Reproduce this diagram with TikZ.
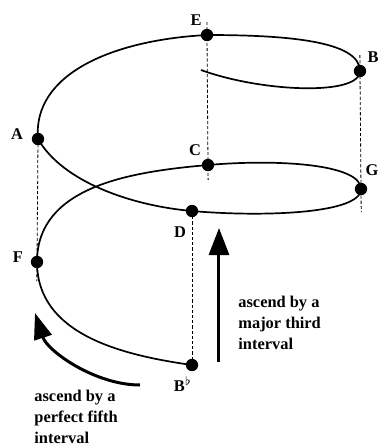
\documentclass[tikz,border=0pt]{standalone}
\usepackage{fontspec}
\setmainfont{Liberation Serif}
\usetikzlibrary{arrows.meta}

\begin{document}
\begin{tikzpicture}[
  x=0.5pt, y=0.5pt,
  every node/.style={font=\bfseries\fontsize{8.2}{10.5}\selectfont},
  tone/.style={circle, fill, inner sep=0pt, minimum size=6.2pt},
  spiral/.style={draw, line width=0.85pt},
  guide/.style={draw, line width=0.4pt, dash pattern=on 1.6pt off 1pt},
  bigarrow/.style={draw, line width=1.5pt, -{Triangle[width=10pt, length=13.5pt]}},
  remark/.style={align=left, anchor=north west, inner sep=0pt}
]
\useasboundingbox (0,0) rectangle (380,-446);

% tones on the spiral
\node[tone] (bflat) at (192,-365) {};
\node[tone] (f) at (37,-262) {};
\node[tone] (c) at (208,-165) {};
\node[tone] (g) at (361,-189) {};
\node[tone] (d) at (192,-211) {};
\node[tone] (a) at (38,-139) {};
\node[tone] (e) at (207,-35) {};
\node[tone] (b) at (360,-71) {};
\coordinate (tail) at (201,-70);

% note names
\node (bflat label) at (183,-384) {B$^{\flat}$};
\node (f label) at (18,-257) {F};
\node (c label) at (195,-150) {C};
\node (g label) at (372,-170) {G};
\node (d label) at (180,-232) {D};
\node (a label) at (17,-134) {A};
\node (e label) at (196,-20) {E};
\node (b label) at (373,-57) {B};

% the spiral
\draw[spiral] (bflat.center)
  .. controls +(172:72) and +(-90:72) .. (f.center)
  .. controls +(90:76) and +(185:77) .. (c.center)
  .. controls +(5:70) and +(90:25) .. (g.center)
  .. controls +(-90:25) and +(-5:70) .. (d.center)
  .. controls +(175:60) and +(-60:50) .. (a.center)
  .. controls +(95:65) and +(183:95) .. (e.center)
  .. controls +(0:80) and +(90:30) .. (b.center)
  .. controls +(-90:25) and +(-20:65) .. (tail);

% vertical guides
\draw[guide, shorten <=-6.5pt, shorten >=-7.5pt] (e.center) -- (c.center);
\draw[guide, shorten <=-8pt, shorten >=-11.5pt] (b.center) -- (g.center);
\draw[guide, shorten >=-9.5pt] (a.center) -- (f.center);
\draw[guide] (d.center) -- (bflat.center);

% intervals
\coordinate (third from) at (219,-362);
\coordinate (third to) at (219,-228);
\draw[bigarrow] (third from) -- (third to);
\node[remark] (third text) at (238,-296) {ascend by a\\major third\\interval};

\coordinate (fifth from) at (140,-385);
\coordinate (fifth to) at (35,-313);
\draw[bigarrow, -{Triangle[width=9pt, length=13pt]}] (fifth from)
  .. controls +(180:45) and +(-72:40) .. (fifth to);
\node[remark] (fifth text) at (34,-390) {ascend by a\\perfect fifth\\interval};
\end{tikzpicture}
\end{document}
